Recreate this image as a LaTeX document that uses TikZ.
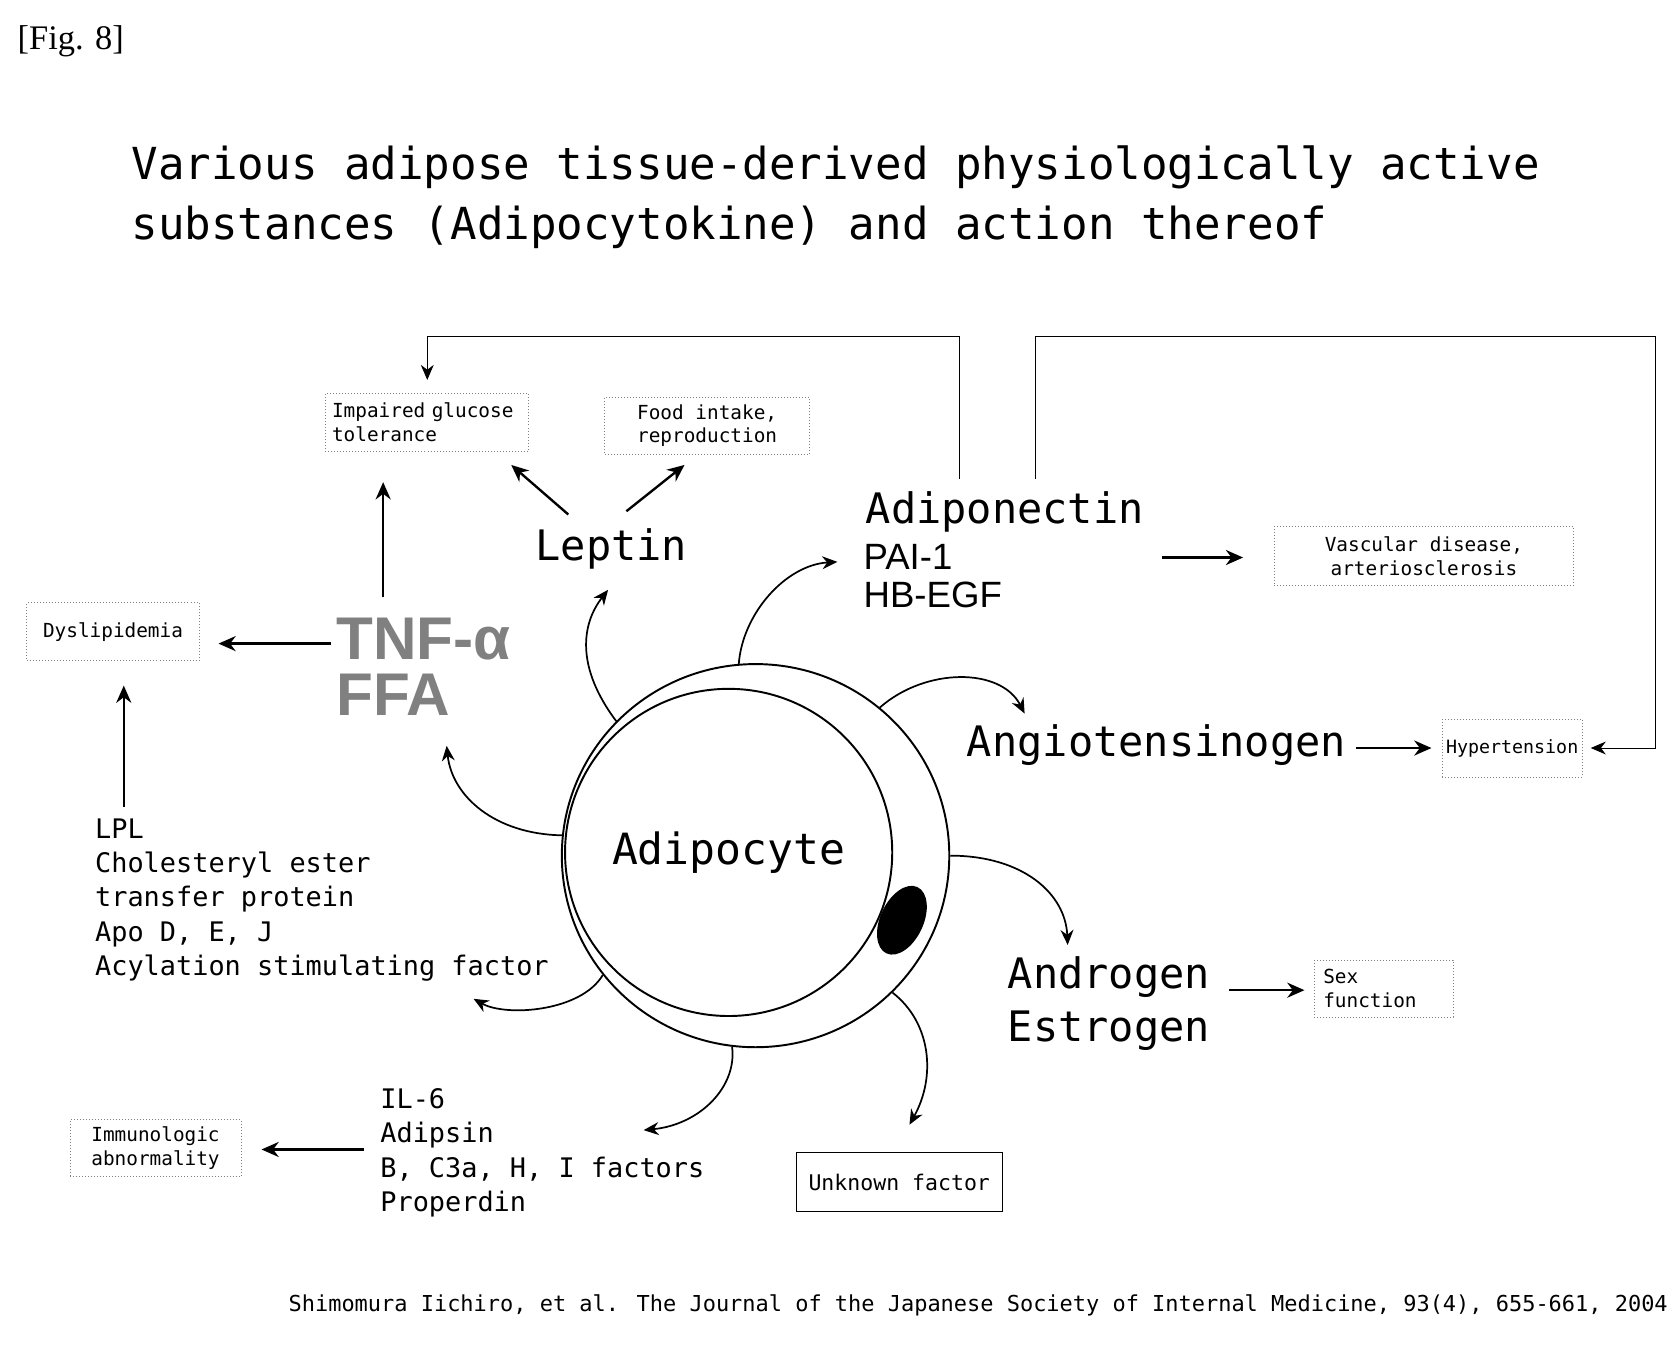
\documentclass[tikz,border=0pt]{standalone}
\usepackage{fontspec}
\setmainfont{DejaVu Sans Mono}
\newfontfamily\serifbox{Liberation Serif}
\newfontfamily\sansbox{Liberation Sans}
\usetikzlibrary{arrows.meta, positioning, shapes.geometric}
\tikzset{
    result/.style={draw=gray, densely dotted, inner sep=0pt, align=center, font=\fontsize{9}{11}\selectfont},
    big/.style={inner sep=0pt, font=\fontsize{19.5}{23}\selectfont},
    list/.style={inner sep=0pt, align=left, font=\fontsize{12.5}{16}\selectfont},
    push/.style={-{Stealth[length=8pt, width=7pt]}, line width=1.1pt},
    emit/.style={-{Stealth[length=7pt, width=6pt]}, line width=0.8pt},
    loop/.style={-{Stealth[length=7pt, width=6pt]}, line width=0.4pt}
}
\begin{document}
\begin{tikzpicture}[x=0.5pt, y=-0.5pt]
        \useasboundingbox (0,0) rectangle (1560,1252.5);
        \node[anchor=west, inner sep=0pt, font=\serifbox\fontsize{16}{18}\selectfont] (fig) at (16,38) {[Fig. 8]};
        \node[anchor=north west, inner sep=0pt, align=left, font=\fontsize{20.5}{28}\selectfont] (title) at (122,135)
            {Various adipose tissue-derived physiologically active\\substances (Adipocytokine) and action thereof};
        % the cell
        \node[ellipse, draw, line width=0.9pt, minimum width=180pt, minimum height=178pt] (cell) at (702,795) {};
        \node[circle, draw, line width=0.9pt, minimum size=152pt, font=\fontsize{20}{24}\selectfont] (adipo) at (677,792) {Adipocyte};
        \fill[rotate around={-25:(838,855)}] (838,855) ellipse (10pt and 17pt);
        % substances
        \node[big] (leptin) at (568,510) {Leptin};
        \node[big, anchor=west] (adipon) at (804,476) {Adiponectin};
        \node[anchor=north west, inner sep=0pt, align=left, font=\sansbox\fontsize{17}{18}\selectfont] (pai) at (802,505) {PAI-1\\HB-EGF};
        \node[anchor=north west, inner sep=0pt, align=left, text=gray, font=\sansbox\bfseries\fontsize{28}{26}\selectfont] (tnf) at (312,574) {TNF-α\\FFA};
        \node[big, anchor=west] (angio) at (898,692) {Angiotensinogen};
        \node[big, anchor=north west, align=left, font=\fontsize{19.5}{25}\selectfont] (andro) at (936,888) {Androgen\\Estrogen};
        \node[list, anchor=north west] (lpl) at (88,760) {LPL\\Cholesteryl ester\\transfer protein\\Apo D, E, J\\Acylation stimulating factor};
        \node[list, anchor=north west] (il) at (353,1011) {IL-6\\Adipsin\\B, C3a, H, I factors\\Properdin};
        % results
        \node[result, minimum width=94.5pt, minimum height=26.5pt, text width=88pt, align=left] (glucose) at (396.5,392.5) {Impaired glucose\\tolerance};
        \node[result, minimum width=95pt, minimum height=26.5pt] (food) at (657,395.5) {Food intake,\\reproduction};
        \node[result, minimum width=80pt, minimum height=27pt] (dys) at (105,587) {Dyslipidemia};
        \node[result, minimum width=139pt, minimum height=27.5pt] (vasc) at (1323,516.5) {Vascular disease,\\arteriosclerosis};
        \node[result, minimum width=65pt, minimum height=27pt, font=\fontsize{8.5}{10}\selectfont] (hyper) at (1405,695) {Hypertension};
        \node[result, minimum width=64.5pt, minimum height=26.5pt, text width=56pt, align=left] (sex) at (1285.5,918.5) {Sex\\function};
        \node[result, minimum width=79.5pt, minimum height=26.5pt] (immuno) at (144.5,1066.5) {Immunologic\\abnormality};
        \node[result, draw=black, solid, minimum width=95.5pt, minimum height=27.5pt, font=\fontsize{10}{12}\selectfont] (unknown) at (835.5,1098.5) {Unknown factor};
        \node[anchor=east, inner sep=0pt, font=\fontsize{10.2}{12}\selectfont] (cite) at (1550,1213)
            {Shimomura Iichiro, et al. The Journal of the Japanese Society of Internal Medicine, 93(4), 655-661, 2004};
        % straight arrows
        \draw[push] (528,478) -- (475,432);
        \draw[push] (582,475) -- (636,432);
        \draw[push] (356,555) -- (356,448);
        \draw[push] (308,598) -- (203,598);
        \draw[push] (115,750) -- (115,637);
        \draw[push] (1080,518) -- (1155,518);
        \draw[push] (1260,695) -- (1330,695);
        \draw[push] (1142,920) -- (1212,920);
        \draw[push] (338,1068) -- (243,1068);
        % feedback lines
        \draw[loop] (891,445) -- (891,313) -- (397,313) -- (397,353);
        \draw[loop] (962,445) -- (962,313) -- (1538,313) -- (1538,695) -- (1478,695);
        % secretion arrows
        \draw[emit] (cell.136) .. controls (535,620) and (540,580) .. (565,548);
        \draw[emit] (cell.95) .. controls (690,570) and (730,525) .. (778,522);
        \draw[emit] (cell.50) .. controls (860,620) and (930,620) .. (952,663);
        \draw[emit] (cell.174) .. controls (460,775) and (420,740) .. (415,693);
        \draw[emit] (cell.0) .. controls (950,795) and (990,830) .. (992,878);
        \draw[emit] (cell.218) .. controls (540,940) and (470,945) .. (440,928);
        \draw[emit] (cell.263) .. controls (685,1010) and (650,1045) .. (598,1050);
        \draw[emit] (cell.315) .. controls (865,950) and (870,1000) .. (845,1045);
\end{tikzpicture}
\end{document}
